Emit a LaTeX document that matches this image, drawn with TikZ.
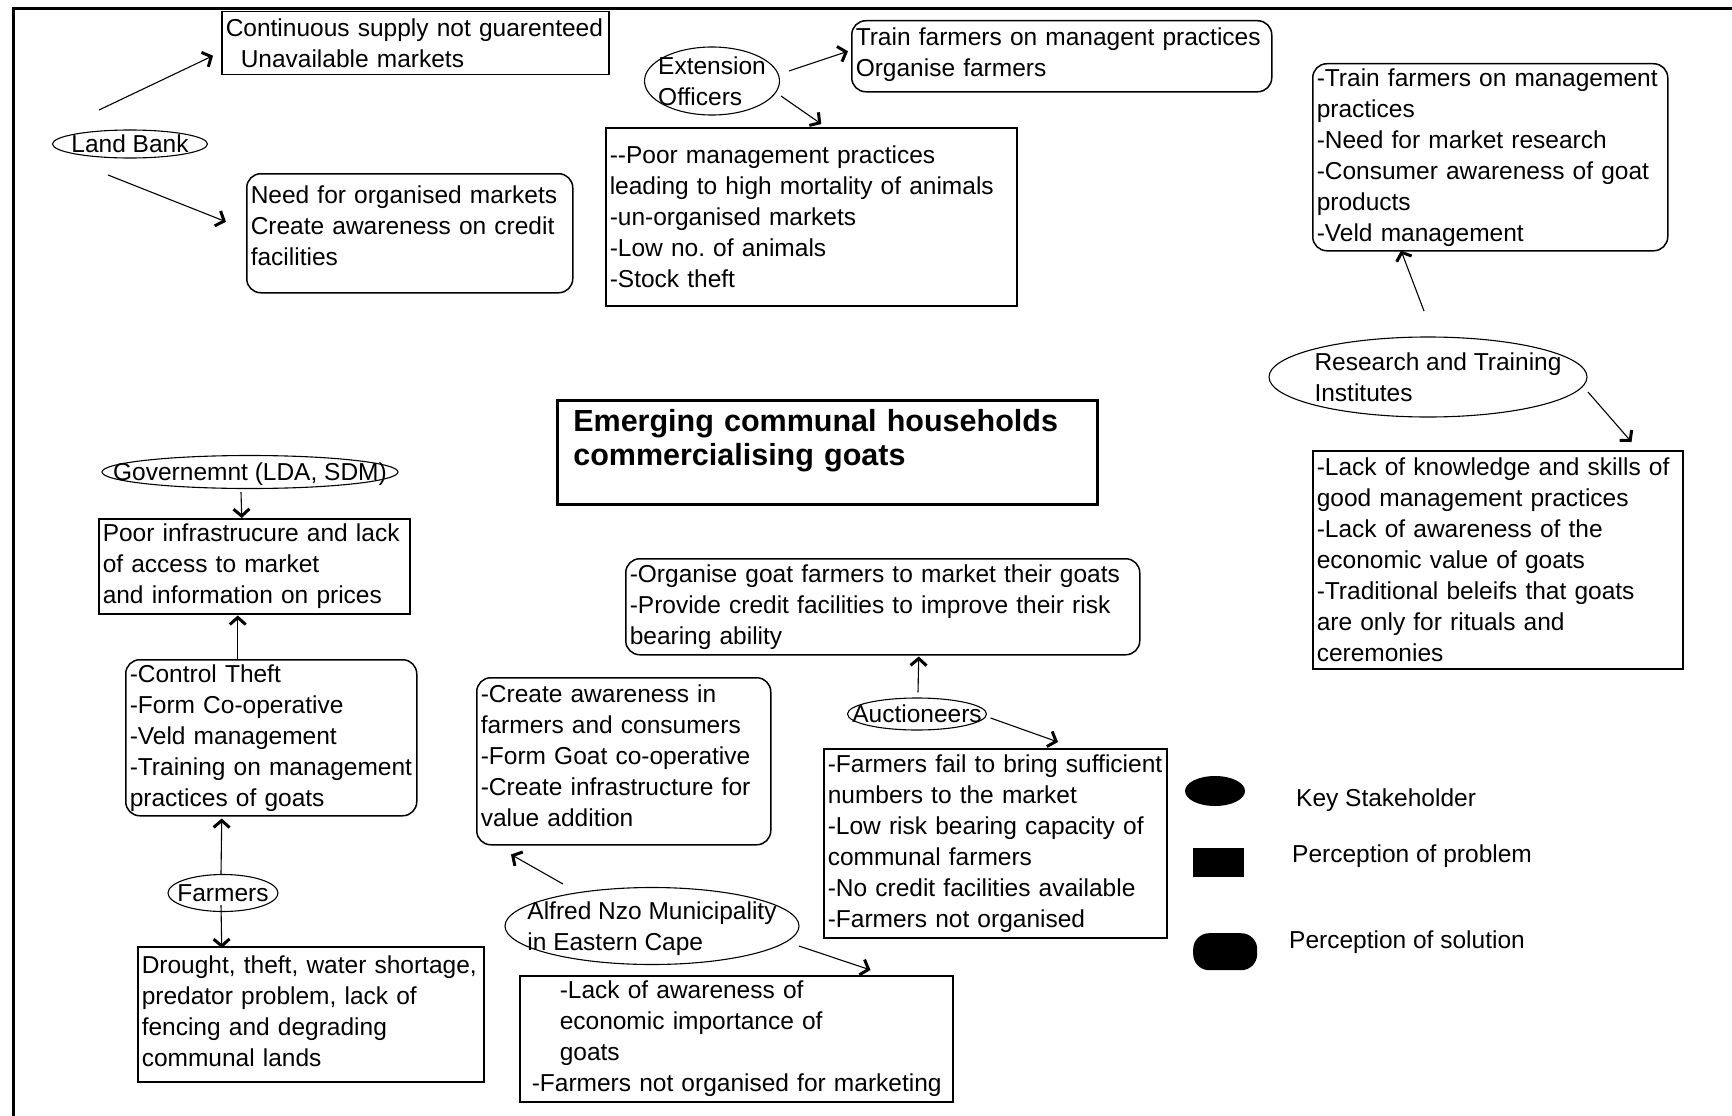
\documentclass[tikz,border=0pt]{standalone}
\usepackage{fontspec}
\setmainfont{Liberation Sans}
\usetikzlibrary{shapes,arrows.meta}

% stakeholder names sit in a zero-width box so the ellipse keeps its size
\newcommand{\stakename}[1]{\makebox[0pt]{\begin{tabular}{@{}l@{}}#1\end{tabular}}}

\begin{document}
\begin{tikzpicture}[
    x=1pt, y=-1pt,
    font=\fontsize{24.5}{31}\selectfont,
    prob/.style={rectangle, draw, line width=1.5pt, anchor=north west, align=left, inner xsep=4pt, inner ysep=1pt},
    sol/.style={prob, rounded corners=14pt},
    boxsize/.code 2 args={\pgfmathsetmacro\boxtw{#1-8}\pgfkeysalso{minimum width=#1, minimum height=#2, text width=\boxtw pt}},
    stake/.style={ellipse, draw, line width=1.1pt, inner sep=0pt, text height=18pt, text depth=0pt},
    title/.style={rectangle, draw, line width=2.6pt, anchor=north west, align=left, font=\fontsize{30.5}{34}\selectfont\bfseries, inner xsep=16pt, inner ysep=9pt, text depth=64pt},
    keyshape/.style={fill, inner sep=0pt},
    keylabel/.style={anchor=west, inner sep=0pt},
    arrow/.style={-{Straight Barb[length=7pt,width=16pt,line width=3pt]}, line width=1.1pt}
]
\useasboundingbox (0,0) rectangle (1732,1116);

% Frame
\draw[line width=3pt] (13,1116) -- (13,9) -- (1732,9);

% Land Bank
\node[stake, minimum width=155, minimum height=28] (landbank) at (130,144) {\stakename{Land Bank}};
\node[prob, boxsize={387}{63}] (lbprob) at (221,11) {Continuous supply not guarenteed\\\hspace*{15pt}Unavailable markets};
\node[sol, boxsize={326}{119}, text depth=78pt] (lbsol) at (246,173) {Need for organised markets\\Create awareness on credit\\facilities};

% Extension Officers
\node[stake, minimum width=135, minimum height=68] (extoff) at (712,81) {\stakename{Extension\\Officers}};
\node[sol, boxsize={420}{71}, text depth=40pt] (eosol) at (851,20) {Train farmers on managent practices\\Organise farmers};
\node[prob, boxsize={411}{178}] (eoprob) at (605,127) {-{}-Poor management practices\\leading to high mortality of animals\\-un-organised markets\\-Low no.\ of animals\\-Stock theft};

% Research and Training Institutes
\node[stake, minimum width=318, minimum height=80] (research) at (1428,377) {\stakename{\hspace*{20pt}Research and Training\\\hspace*{20pt}Institutes}};
\node[sol, boxsize={355}{187}] (rtisol) at (1312,63) {-Train farmers on management\\practices\\-Need for market research\\-Consumer awareness of goat\\products\\-Veld management};
\node[prob, boxsize={370}{218}] (rtiprob) at (1312,450) {-Lack of knowledge and skills of\\good management practices\\-Lack of awareness of the\\economic value of goats\\-Traditional beleifs that goats\\are only for rituals and\\ceremonies};

% Title
\node[title, minimum width=540, text width=508pt] (title) at (556,399) {Emerging communal households\\commercialising goats};

% Government and Farmers
\node[stake, minimum width=296, minimum height=33] (gov) at (250,472) {\stakename{Governemnt (LDA, SDM)}};
\node[prob, boxsize={311}{95}] (govprob) at (98,518) {Poor infrastrucure and lack\\of access to market\\and information on prices};
\node[sol, boxsize={291}{156}] (govsol) at (125,659) {-Control Theft\\-Form Co-operative\\-Veld management\\-Training on management\\practices of goats};
\node[stake, minimum width=110, minimum height=37] (farmers) at (223,893) {\stakename{Farmers}};
\node[prob, boxsize={346}{135}, text depth=100pt] (farmprob) at (137,946) {Drought, theft, water shortage,\\predator problem, lack of\\fencing and degrading\\communal lands};

% Alfred Nzo Municipality
\node[stake, minimum width=294, minimum height=77] (alfred) at (652,926) {\stakename{Alfred Nzo Municipality\\in Eastern Cape}};
\node[sol, boxsize={294}{167}, text depth=135pt] (ansol) at (476,677) {-Create awareness in\\farmers and consumers\\-Form Goat co-operative\\-Create infrastructure for\\value addition};
\node[prob, boxsize={433}{126}] (anprob) at (519,975) {\hspace*{36pt}-Lack of awareness of\\\hspace*{36pt}economic importance of\\\hspace*{36pt}goats\\\hspace*{8pt}-Farmers not organised for marketing};

% Auctioneers
\node[stake, minimum width=139, minimum height=32] (auct) at (917,714) {\stakename{Auctioneers}};
\node[sol, boxsize={514}{96}] (aucsol) at (625,558) {-Organise goat farmers to market their goats\\-Provide credit facilities to improve their risk\\bearing ability};
\node[prob, boxsize={343}{189}] (aucprob) at (823,748) {-Farmers fail to bring sufficient\\numbers to the market\\-Low risk bearing capacity of\\communal farmers\\-No credit facilities available\\-Farmers not organised};

% Connectors
\draw[arrow] ([shift={(-31,-34)}]landbank.center) -- ([shift={(-8,12.5)}]lbprob.west);
\draw[arrow] ([shift={(-22,31)}]landbank.center) -- ([shift={(-20,-11.5)}]lbsol.west);
\draw[arrow] ([shift={(77,-10)}]extoff.center) -- ([shift={(-3,-5)}]eosol.west);
\draw[arrow] ([shift={(69,15)}]extoff.center) -- ([shift={(10,-3)}]eoprob.north);
\draw[arrow] ([shift={(-4,-66)}]research.center) -- ([shift={(89,-1)}]rtisol.south west);
\draw[arrow] ([shift={(160,15)}]research.center) -- ([shift={(-52,-8)}]rtiprob.north east);
\draw[arrow] ([shift={(-9,3)}]gov.south) -- ([shift={(-12.5,0)}]govprob.north);
\draw[arrow] ([shift={(-33.5,0)}]govsol.north) -- ([shift={(-16.5,1)}]govprob.south);
\draw[arrow] ([shift={(-2,0)}]farmers.north) -- ([shift={(-49.5,2)}]govsol.south);
\draw[arrow] ([shift={(-2,12)}]farmers.center) -- ([shift={(-89,2)}]farmprob.north);
\draw[arrow] ([shift={(-89,-42)}]alfred.center) -- ([shift={(35,9)}]ansol.south west);
\draw[arrow] ([shift={(147,20)}]alfred.center) -- ([shift={(-83,-5)}]anprob.north east);
\draw[arrow] ([shift={(1,-5)}]auct.north) -- ([shift={(36,1)}]aucsol.south);
\draw[arrow] ([shift={(3.5,4)}]auct.east) -- ([shift={(235,-6)}]aucprob.north west);

% Legend
\node[keyshape, ellipse, minimum width=60, minimum height=30] (keystake) at (1215,791) {};
\node[keyshape, rectangle, anchor=north west, minimum width=51, minimum height=29] (keyprob) at (1193,848) {};
\node[keyshape, rectangle, rounded corners=16pt, anchor=north west, minimum width=64, minimum height=37] (keysol) at (1193,933) {};
\node[keylabel] (keystakelab) at (1296,800) {Key Stakeholder};
\node[keylabel] (keyproblab) at (1292,856) {Perception of problem};
\node[keylabel] (keysollab) at (1289,942) {Perception of solution};

\end{tikzpicture}
\end{document}
